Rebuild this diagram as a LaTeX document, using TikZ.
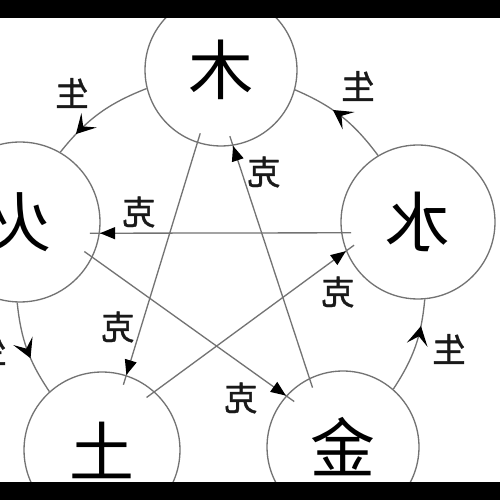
\documentclass[tikz,border=0pt]{standalone}
\usepackage{fontspec}
\newfontfamily\cjk{Noto Sans CJK SC}
\newfontfamily\cjkb[FakeBold=1.2]{Noto Sans CJK SC}
\usetikzlibrary{arrows.meta,decorations.markings}
\definecolor{linegray}{gray}{0.45}
\tikzset{
  phase/.style={circle, draw=linegray, line width=0.75pt, minimum size=#1, inner sep=0pt,
    font=\cjk\fontsize{37}{37}\selectfont, text=black},
  lab/.style={font=\cjkb\fontsize{19}{19}\selectfont, inner sep=0pt, text=black!90},
  kline/.style={linegray, line width=0.75pt, shorten <=-0.2cm, shorten >=-0.2cm,
    postaction={decorate}, decoration={markings,
      mark=at position 0.999 with {\arrow{Triangle[length=0.3cm,width=0.24cm,color=black]}}}},
  sarc/.style={linegray, line width=0.75pt,
    postaction={decorate}, decoration={markings,
      mark=at position #1 with {\arrow{Stealth[length=0.38cm,width=0.42cm,inset=0.17cm,color=black]}}}}
}
\begin{document}
\begin{tikzpicture}[x=0.02cm,y=0.02cm]
\useasboundingbox (0,0) rectangle (500,500);
\clip (0,0) rectangle (500,500);
\fill[white] (0,0) rectangle (500,500);
% five phases
\node[phase=3.04cm] (mu)   at (221,430) {\reflectbox{木}};
\node[phase=3.2cm]  (huo)  at (20,278)  {\reflectbox{火}};
\node[phase=3.08cm] (shui) at (418,278) {\reflectbox{水}};
\node[phase=3.12cm] (tu)   at (102,50)  {\reflectbox{土}};
\node[phase=3.04cm] (jin)  at (343,53)  {\reflectbox{金}};
% generating arcs
\draw[sarc=0.78] (mu.194) to[bend right=15] (huo.60);
\draw[sarc=0.6]  (huo.268) to[bend right=14] (tu.132);
\draw[sarc=0.72] (jin.49) to[bend right=14] (shui.275);
\draw[sarc=0.6]  (shui.121) to[bend right=15] (mu.345);
% controlling lines
\draw[kline] (mu.252) -- (tu.72);
\draw[kline] (tu.48) -- (shui.202);
\draw[kline] (shui.188) -- (huo.352);
\draw[kline] (huo.334) -- (jin.138);
\draw[kline] (jin.116) -- (mu.279);
% labels
\node[lab] (s1) at (72,407)  {\reflectbox{生}};
\node[lab] (s2) at (-10,150) {\reflectbox{生}};
\node[lab] (s3) at (449,151) {\reflectbox{生}};
\node[lab] (s4) at (358,414) {\reflectbox{生}};
\node[lab] (k1) at (118,173) {\reflectbox{克}};
\node[lab] (k2) at (338,208) {\reflectbox{克}};
\node[lab] (k3) at (139,288) {\reflectbox{克}};
\node[lab] (k4) at (241,102) {\reflectbox{克}};
\node[lab] (k5) at (264,328) {\reflectbox{克}};
% black bars
\fill[black] (0,482) rectangle (500,500);
\fill[black] (0,0) rectangle (500,18);
\end{tikzpicture}
\end{document}
